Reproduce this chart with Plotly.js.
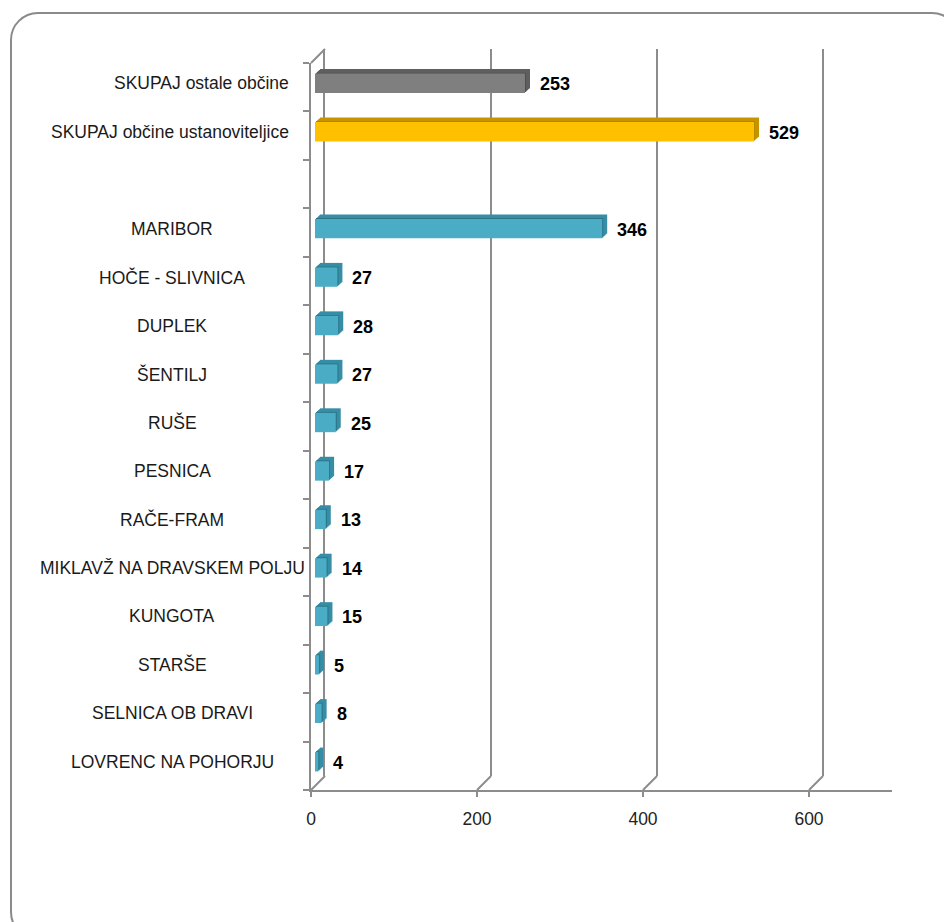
<!DOCTYPE html>
<html><head><meta charset="utf-8">
<script src="https://cdn.plot.ly/plotly-3.0.1.min.js"></script>
<style>
html,body{margin:0;padding:0;overflow:hidden;background:#fff;width:944px;height:922px;}
#frame{position:absolute;left:10px;top:12px;width:950px;height:928px;border:2px solid #8a8a8a;border-radius:28px;box-sizing:border-box;}
#chart{position:absolute;left:0;top:0;width:944px;height:922px;}
</style></head><body>
<div id="frame"></div><div id="chart"></div>
<script>
// ---- data (bottom to top) ----
const categories = [
  "LOVRENC NA POHORJU", "SELNICA OB DRAVI", "STARŠE", "KUNGOTA",
  "MIKLAVŽ NA DRAVSKEM POLJU", "RAČE-FRAM", "PESNICA", "RUŠE", "ŠENTILJ",
  "DUPLEK", "HOČE - SLIVNICA", "MARIBOR", " ",
  "SKUPAJ občine ustanoviteljice", "SKUPAJ ostale občine"
];
const values = [4, 8, 5, 15, 14, 13, 17, 25, 27, 28, 27, 346, null, 529, 253];
const xTicks = [0, 200, 400, 600];
const xMax = 700;

// ---- styles ----
const styleFor = name => {
  if (name === "SKUPAJ ostale občine") return {front: "#7f7f7f", top: "#5f5f5f", side: "#4f4f4f"};
  if (name === "SKUPAJ občine ustanoviteljice") return {front: "#ffc000", top: "#c69500", side: "#b38600"};
  return {front: "#4bacc6", top: "#368ea6", side: "#2b7386"};
};
const rightAligned = new Set(["SKUPAJ ostale občine", "SKUPAJ občine ustanoviteljice"]);

const W = 944, H = 922;
const px = p => p / W, py = p => 1 - p / H;
const front = {x0: 311, x1: 892, y0: 63, y1: 790};
const offBarFront = {dx: 4, dy: -4}, offWall = {dx: 14, dy: -14};
const depthSteps = 5, depthDx = 5, depthDy = -4.5;
const dom = o => ({x: [px(front.x0 + o.dx), px(front.x1 + o.dx)], y: [py(front.y1 + o.dy), py(front.y0 + o.dy)]});
const n = categories.length;
const idx = categories.map((_, i) => i);
const yRange = [-0.5, n - 0.5];
const lineCol = "#8c8c8c";
const FONT = "Liberation Sans, Arial, sans-serif";

const hiddenAx = (d, anchor, range) => ({domain: d, range: range, visible: false, fixedrange: true, anchor: anchor});

const layout = {
  width: W, height: H, margin: {l: 0, r: 0, t: 0, b: 0},
  paper_bgcolor: "rgba(0,0,0,0)", plot_bgcolor: "rgba(0,0,0,0)",
  showlegend: false, bargap: 0.6, barmode: "group"
};
const traces = [];

// back wall (subplot x/y): gridlines + left wall line
const dWall = dom(offWall);
layout.xaxis = {domain: dWall.x, range: [0, xMax], anchor: "y", showgrid: true, gridcolor: lineCol, gridwidth: 2,
  tickmode: "array", tickvals: xTicks.filter(v => v > 0), showticklabels: false, ticks: "",
  zeroline: false, showline: false, fixedrange: true};
layout.yaxis = {domain: dWall.y, range: yRange, anchor: "x", showgrid: false, showline: true, linecolor: lineCol,
  linewidth: 2, showticklabels: false, ticks: "", zeroline: false, fixedrange: true};
traces.push({type: "scatter", x: [], y: [], xaxis: "x", yaxis: "y", hoverinfo: "skip"});

// depth layers (back to front), then front face
let axNum = 2;
for (let s = depthSteps; s >= 1; s--) {
  const f = s / depthSteps;
  const d = dom({dx: offBarFront.dx + depthDx * f, dy: offBarFront.dy + depthDy * f});
  layout["xaxis" + axNum] = hiddenAx(d.x, "y" + axNum, [0, xMax]);
  layout["yaxis" + axNum] = hiddenAx(d.y, "x" + axNum, yRange);
  traces.push({type: "bar", orientation: "h", x: values, y: idx, xaxis: "x" + axNum, yaxis: "y" + axNum,
    marker: {color: categories.map(c => s === 1 ? styleFor(c).side : styleFor(c).top)}, hoverinfo: "skip"});
  axNum++;
}
const barAx = axNum;
const dBarF = dom(offBarFront);
layout["xaxis" + barAx] = hiddenAx(dBarF.x, "y" + barAx, [0, xMax]);
layout["yaxis" + barAx] = hiddenAx(dBarF.y, "x" + barAx, yRange);
traces.push({type: "bar", orientation: "h", x: values, y: idx, xaxis: "x" + barAx, yaxis: "y" + barAx,
  marker: {color: categories.map(c => styleFor(c).front)}, hoverinfo: "skip"});
axNum++;

// front axes
const fAx = axNum;
const dFront = dom({dx: 0, dy: 0});
layout["xaxis" + fAx] = {domain: dFront.x, range: [0, xMax], anchor: "y" + fAx, showgrid: false, zeroline: false,
  showline: true, linecolor: lineCol, linewidth: 2, ticks: "outside", ticklen: 5, tickwidth: 2,
  tickcolor: lineCol, tickmode: "array", tickvals: xTicks, ticktext: xTicks.map(String), ticklabelstandoff: 7,
  tickfont: {family: FONT, size: 17.5, color: "#222"}, fixedrange: true};
layout["yaxis" + fAx] = {domain: dFront.y, range: yRange, anchor: "x" + fAx, showgrid: false, zeroline: false,
  showline: true, linecolor: lineCol, linewidth: 2, ticks: "outside", ticklen: 6, tickwidth: 2,
  tickcolor: lineCol, tickmode: "array",
  tickvals: Array.from({length: n + 1}, (_, k) => k - 0.5), showticklabels: false, fixedrange: true};
traces.push({type: "scatter", x: [], y: [], xaxis: "x" + fAx, yaxis: "y" + fAx, hoverinfo: "skip"});

const annotations = [];
categories.forEach((c, i) => {
  if (c.trim() === "") return;
  annotations.push({xref: "paper", yref: "y" + barAx, x: rightAligned.has(c) ? px(291) : px(172), y: i,
    xanchor: rightAligned.has(c) ? "right" : "center", yanchor: "middle", showarrow: false,
    text: c, font: {family: FONT, size: 17.5, color: "#1a1a1a"}});
  if (values[i] !== null) {
    annotations.push({xref: "x" + barAx, yref: "y" + barAx, x: values[i], y: i, xanchor: "left", yanchor: "middle",
      xshift: 13, yshift: -1, showarrow: false, text: "<b>" + values[i] + "</b>",
      font: {family: FONT, size: 18, color: "#000"}});
  }
});

const scale = (front.x1 - front.x0) / xMax;
const shapes = [];
xTicks.forEach(v => {
  const xf = front.x0 + v * scale;
  shapes.push({type: "line", xref: "paper", yref: "paper", layer: "below",
    x0: px(xf), y0: py(front.y1), x1: px(xf + offWall.dx), y1: py(front.y1 + offWall.dy),
    line: {color: lineCol, width: 2}});
});
shapes.push({type: "line", xref: "paper", yref: "paper", layer: "below",
  x0: px(front.x0), y0: py(front.y0), x1: px(front.x0 + offWall.dx), y1: py(front.y0 + offWall.dy),
  line: {color: lineCol, width: 2}});

layout.annotations = annotations;
layout.shapes = shapes;

Plotly.newPlot("chart", traces, layout, {displayModeBar: false, staticPlot: true});
</script>
</body></html>
